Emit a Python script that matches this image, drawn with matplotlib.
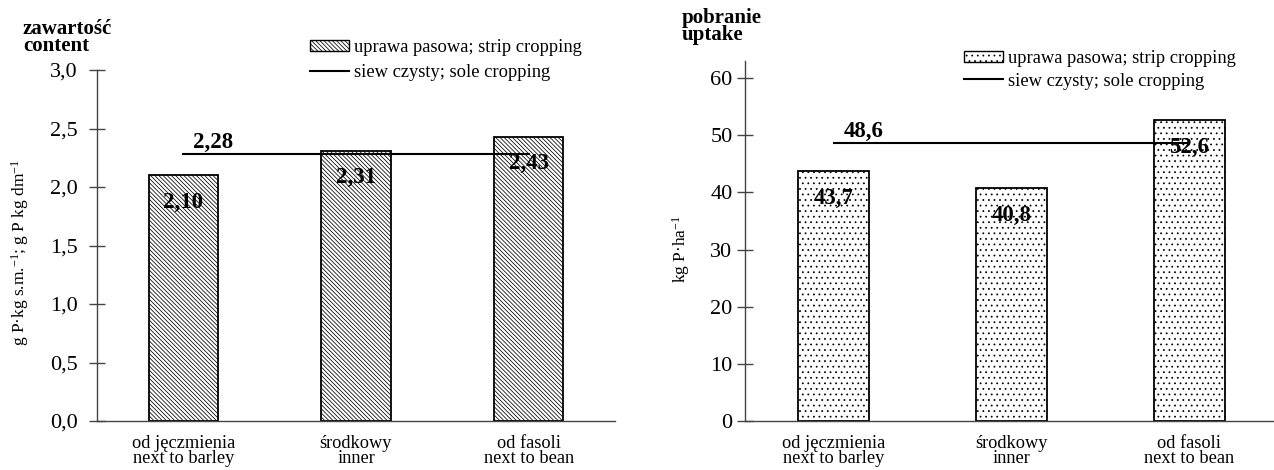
import matplotlib
matplotlib.use("Agg")
import matplotlib.pyplot as plt
from matplotlib.patches import Patch
from matplotlib.lines import Line2D
import numpy as np

plt.rcParams['font.family'] = ['Liberation Serif', 'DejaVu Serif']
plt.rcParams['mathtext.fontset'] = 'custom'
plt.rcParams['mathtext.rm'] = 'Liberation Serif'
plt.rcParams['mathtext.it'] = 'Liberation Serif:italic'
plt.rcParams['mathtext.bf'] = 'Liberation Serif:bold'
plt.rcParams['hatch.linewidth'] = 0.55

categories = ["od jęczmienia\nnext to barley", "środkowy\ninner", "od fasoli\nnext to bean"]
content_strip = [2.10, 2.31, 2.43]
content_sole = 2.28
content_labels = ["2,10", "2,31", "2,43"]
content_sole_label = "2,28"
content_ticks = [0.0, 0.5, 1.0, 1.5, 2.0, 2.5, 3.0]
content_ticklabels = ["0,0", "0,5", "1,0", "1,5", "2,0", "2,5", "3,0"]

uptake_strip = [43.7, 40.8, 52.6]
uptake_sole = 48.6
uptake_labels = ["43,7", "40,8", "52,6"]
uptake_sole_label = "48,6"
uptake_ticks = [0, 10, 20, 30, 40, 50, 60]
uptake_ticklabels = ["0", "10", "20", "30", "40", "50", "60"]

legend_strip = "uprawa pasowa; strip cropping"
legend_sole = "siew czysty; sole cropping"

HATCH_L = '\\' * 8
HATCH_R = '...'

W, H = 1274, 470
fig = plt.figure(figsize=(W / 100, H / 100), dpi=100)

def fx(px):
    return px / W

def fy(py):
    return 1 - py / H

axL = fig.add_axes([fx(97), fy(421), fx(615 - 97), fy(70) - fy(421)])
axR = fig.add_axes([fx(745), fy(421), fx(1278 - 745), fy(61) - fy(421)])

spine_col = '#444444'

def style_axis(ax, ticks, ticklabels, ylim, pad):
    ax.set_xlim(-0.5, 2.5)
    ax.set_ylim(*ylim)
    for s in ['top', 'right']:
        ax.spines[s].set_visible(False)
    for s in ['left', 'bottom']:
        ax.spines[s].set_color(spine_col)
        ax.spines[s].set_linewidth(1.0)
    ax.set_yticks(ticks)
    ax.set_yticklabels(ticklabels, fontsize=16)
    ax.tick_params(axis='y', direction='inout', length=12, width=1.0,
                   color=spine_col, pad=pad)
    ax.set_xticks(range(len(categories)))
    ax.set_xticklabels(categories, fontsize=13.2, linespacing=0.88)
    ax.tick_params(axis='x', length=0, pad=10)

x = np.arange(len(categories))

# Left panel: content
axL.bar(x, content_strip, width=0.4, facecolor='white', edgecolor='black',
        linewidth=1.3, hatch=HATCH_L, zorder=2)
axL.plot([x[0], x[-1]], [content_sole, content_sole], color='black', lw=1.5, zorder=3)
for xi, v, lab in zip(x, content_strip, content_labels):
    axL.annotate(lab, (xi, v), xytext=(0, -12), textcoords='offset points',
                 ha='center', va='top', fontsize=16.5, fontweight='bold', zorder=4)
axL.annotate(content_sole_label, (x[0], content_sole), xytext=(7, 1),
             textcoords='offset points', ha='left', va='bottom',
             fontsize=16.5, fontweight='bold', zorder=4)
style_axis(axL, content_ticks, content_ticklabels, (0, 3.0), 8)
axL.set_ylabel("g P·kg s.m.$^{-1}$; g P kg dm$^{-1}$", fontsize=12.5)
axL.yaxis.set_label_coords(-0.128, 0.48)

# Right panel: uptake
axR.bar(x, uptake_strip, width=0.4, facecolor='white', edgecolor='black',
        linewidth=1.3, hatch=HATCH_R, zorder=2)
axR.plot([x[0], x[-1]], [uptake_sole, uptake_sole], color='black', lw=1.5, zorder=3)
for xi, v, lab in zip(x, uptake_strip, uptake_labels):
    axR.annotate(lab, (xi, v), xytext=(0, -12), textcoords='offset points',
                 ha='center', va='top', fontsize=16.5, fontweight='bold', zorder=4)
axR.annotate(uptake_sole_label, (x[0], uptake_sole), xytext=(7, 1),
             textcoords='offset points', ha='left', va='bottom',
             fontsize=16.5, fontweight='bold', zorder=4)
style_axis(axR, uptake_ticks, uptake_ticklabels, (0, 63), 3)
axR.set_ylabel("kg P·ha$^{-1}$", fontsize=12.5)
axR.yaxis.set_label_coords(-0.1, 0.478)

# Titles
fig.text(fx(23), fy(19), "zawartość\ncontent", fontsize=15, fontweight='bold',
         ha='left', va='top', linespacing=0.82)
fig.text(fx(682), fy(8), "pobranie\nuptake", fontsize=15, fontweight='bold',
         ha='left', va='top', linespacing=0.82)

# Legends
def add_legend(hatch, anchor, spacing):
    handles = [Patch(facecolor='white', edgecolor='black', hatch=hatch, linewidth=1.0),
               Line2D([0], [0], color='black', lw=1.5)]
    fig.legend(handles, [legend_strip, legend_sole], loc='upper left',
               bbox_to_anchor=anchor, frameon=False, fontsize=13.3,
               handlelength=2.1, handleheight=0.6, handletextpad=0.3,
               labelspacing=spacing, borderpad=0, borderaxespad=0)

add_legend(HATCH_L, (fx(310), fy(39)), 0.45)
add_legend(HATCH_R, (fx(964), fy(50)), 0.3)

fig.savefig("out.png", dpi=100)
